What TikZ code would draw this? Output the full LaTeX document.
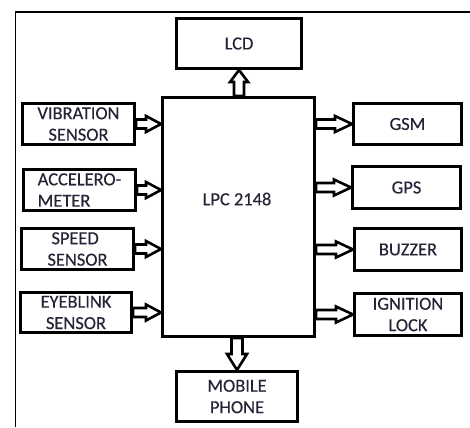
\documentclass[tikz,border=0pt]{standalone}
\usepackage{fontspec}
\setmainfont[FakeBold=0.35]{Carlito}
\usetikzlibrary{calc}
\definecolor{txt}{RGB}{36,36,54}
\tikzset{
  blk/.style={draw, line width=3bp, rectangle, inner sep=0pt, align=center,
    text=txt, font=\fontsize{18.5}{21.5}\selectfont},
  arrowline/.style={draw, line width=2.6bp, line join=miter},
  frameline/.style={line width=1.5bp}
}
\newcommand\blockarrow[5]{%
  \path (#1) coordinate (ba-s) (#2) coordinate (ba-t);
  \path ($(ba-t)!#3!(ba-s)$) coordinate (ba-h);
  \draw[arrowline] ($(ba-s)!#4!90:(ba-t)$) -- ($(ba-h)!#4!90:(ba-t)$) -- ($(ba-h)!#5!90:(ba-t)$) -- (ba-t) -- ($(ba-h)!#5!-90:(ba-t)$) -- ($(ba-h)!#4!-90:(ba-t)$) -- ($(ba-s)!#4!-90:(ba-t)$) -- cycle;
}
\begin{document}
\begin{tikzpicture}[x=1bp,y=-1bp]
\useasboundingbox (0,0) rectangle (470,427);
\draw[frameline] (470,12) -- (15.5,12) -- (15.5,427);

\node[blk, minimum width=125bp, minimum height=50bp] (lcd) at (239,43.5) {LCD};
\node[blk, minimum width=152bp, minimum height=239bp] (lpc) at (238.5,217) {};
\node[text=txt, font=\fontsize{18.5}{21.5}\selectfont] (lpct) at (237,199) {LPC 2148};

\node[blk, minimum width=112bp, minimum height=41bp] (vib) at (78.5,124) {VIBRATION\\SENSOR};
\node[blk, minimum width=112bp, minimum height=41bp, align=left] (acc) at (79.5,190) {ACCELERO-\\METER};
\node[blk, minimum width=112bp, minimum height=41bp, align=left] (spd) at (77.5,249) {\hspace{4bp}SPEED\\SENSOR};
\node[blk, minimum width=111bp, minimum height=40bp] (eye) at (76,312.5) {EYEBLINK\\SENSOR};

\node[blk, minimum width=108bp, minimum height=41bp] (gsm) at (407.5,124) {GSM};
\node[blk, minimum width=108bp, minimum height=42bp] (gps) at (406.5,187.5) {GPS};
\node[blk, minimum width=107bp, minimum height=42bp] (buz) at (408,249.5) {BUZZER};
\node[blk, minimum width=107bp, minimum height=42bp] (ign) at (408,314.5) {IGNITION\\LOCK};

\node[blk, minimum width=121bp, minimum height=50bp] (mob) at (237,396.5) {MOBILE\\PHONE};

\blockarrow{vib.east}{vib.east -| lpc.west}{15bp}{4.5bp}{8bp}
\blockarrow{acc.east}{acc.east -| lpc.west}{15bp}{4.5bp}{8bp}
\blockarrow{spd.east}{spd.east -| lpc.west}{15bp}{4.5bp}{8bp}
\blockarrow{eye.east}{eye.east -| lpc.west}{15bp}{4.5bp}{8bp}

\blockarrow{gsm.west -| lpc.east}{gsm.west}{17bp}{4.5bp}{8bp}
\blockarrow{gps.west -| lpc.east}{gps.west}{17bp}{4.5bp}{8bp}
\blockarrow{buz.west -| lpc.east}{buz.west}{17bp}{4.5bp}{8bp}
\blockarrow{ign.west -| lpc.east}{ign.west}{17bp}{4.5bp}{8bp}

\blockarrow{lpc.north -| lcd.south}{lcd.south}{12bp}{5bp}{9bp}
\blockarrow{lpc.south -| mob.north}{mob.north}{16bp}{5.5bp}{10bp}
\end{tikzpicture}
\end{document}
